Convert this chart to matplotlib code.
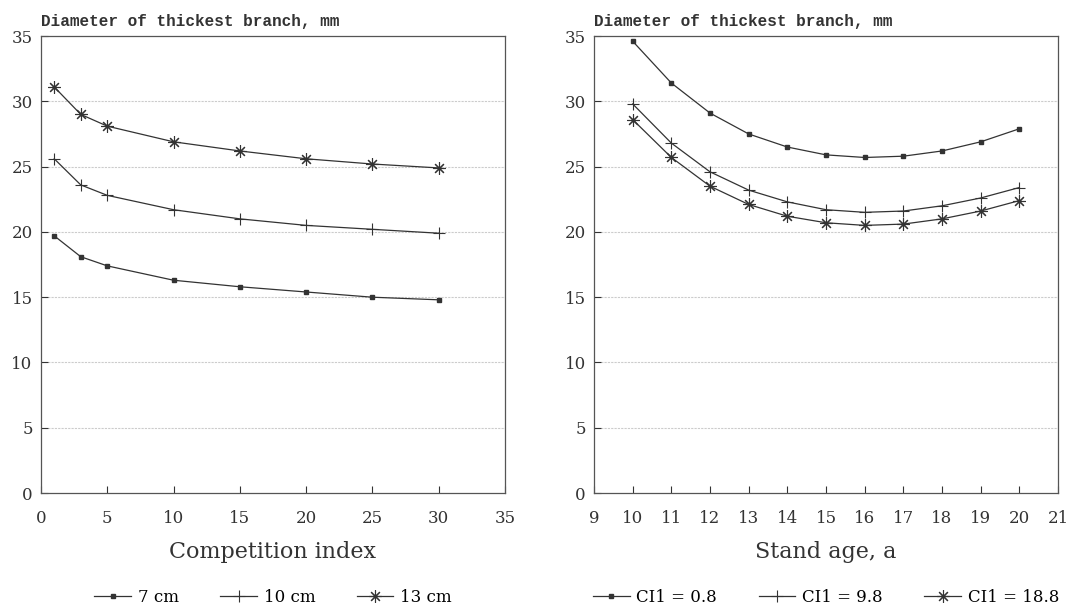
import numpy as np
from matplotlib import pyplot as plt

# Left panel: competition index
ci = [1, 3, 5, 10, 15, 20, 25, 30]
d_7cm = [19.7, 18.1, 17.4, 16.3, 15.8, 15.4, 15.0, 14.8]
d_10cm = [25.6, 23.6, 22.8, 21.7, 21.0, 20.5, 20.2, 19.9]
d_13cm = [31.1, 29.0, 28.1, 26.9, 26.2, 25.6, 25.2, 24.9]
left_labels = ['7 cm', '10 cm', '13 cm']

# Right panel: stand age
age = [10, 11, 12, 13, 14, 15, 16, 17, 18, 19, 20]
d_ci08 = [34.6, 31.4, 29.1, 27.5, 26.5, 25.9, 25.7, 25.8, 26.2, 26.9, 27.9]
d_ci98 = [29.8, 26.8, 24.6, 23.2, 22.3, 21.7, 21.5, 21.6, 22.0, 22.6, 23.4]
d_ci188 = [28.6, 25.7, 23.5, 22.1, 21.2, 20.7, 20.5, 20.6, 21.0, 21.6, 22.4]
right_labels = ['CI1 = 0.8', 'CI1 = 9.8', 'CI1 = 18.8']

plt.rcParams['font.family'] = ['DejaVu Serif']

markers = [dict(marker='s', ms=2.5), dict(marker='+', ms=9, mew=0.8),
           dict(marker=(8, 2, 0), ms=9, mew=0.8)]

fig = plt.figure(figsize=(10.9, 6.11), dpi=100)
ax1 = fig.add_axes([0.0376, 0.193, 0.4257, 0.748])
ax2 = fig.add_axes([0.545, 0.193, 0.4257, 0.748])

panels = [
    (ax1, ci, [d_7cm, d_10cm, d_13cm], left_labels, (0, 35), range(0, 36, 5), 'Competition index'),
    (ax2, age, [d_ci08, d_ci98, d_ci188], right_labels, (9, 21), range(9, 22), 'Stand age, a'),
]

for ax, x, series, labels, xlim, xticks, xlabel in panels:
    for y, lab, mk in zip(series, labels, markers):
        ax.plot(x, y, color='#333333', lw=0.9, label=lab, **mk)
    ax.set_xlim(*xlim)
    ax.set_ylim(0, 35)
    ax.set_xticks(list(xticks))
    ax.set_yticks(range(0, 36, 5))
    for yv in range(5, 35, 5):
        ax.axhline(yv, color='#cccccc', lw=0.8, ls=(0, (2, 1)), zorder=0)
    ax.tick_params(direction='in', length=5, labelsize=12, colors='#333333')
    ax.tick_params(axis='x', pad=12)
    ax.tick_params(axis='y', pad=6)
    for s in ax.spines.values():
        s.set_color('#555555')
        s.set_linewidth(0.9)
    ax.set_xlabel(xlabel, fontsize=16, color='#333333', labelpad=10)
    ax.text(0.0, 1.015, 'Diameter of thickest branch, mm', transform=ax.transAxes,
            fontsize=11.5, family=['Liberation Mono', 'DejaVu Sans Mono'],
            fontweight='bold', color='#333333', va='bottom', ha='left')
    ax.legend(loc='center', bbox_to_anchor=(0.5, -0.228), ncol=3, frameon=False,
              fontsize=12, handlelength=2.2, columnspacing=2.5, handletextpad=0.4)

plt.savefig('out.png', dpi=100)
